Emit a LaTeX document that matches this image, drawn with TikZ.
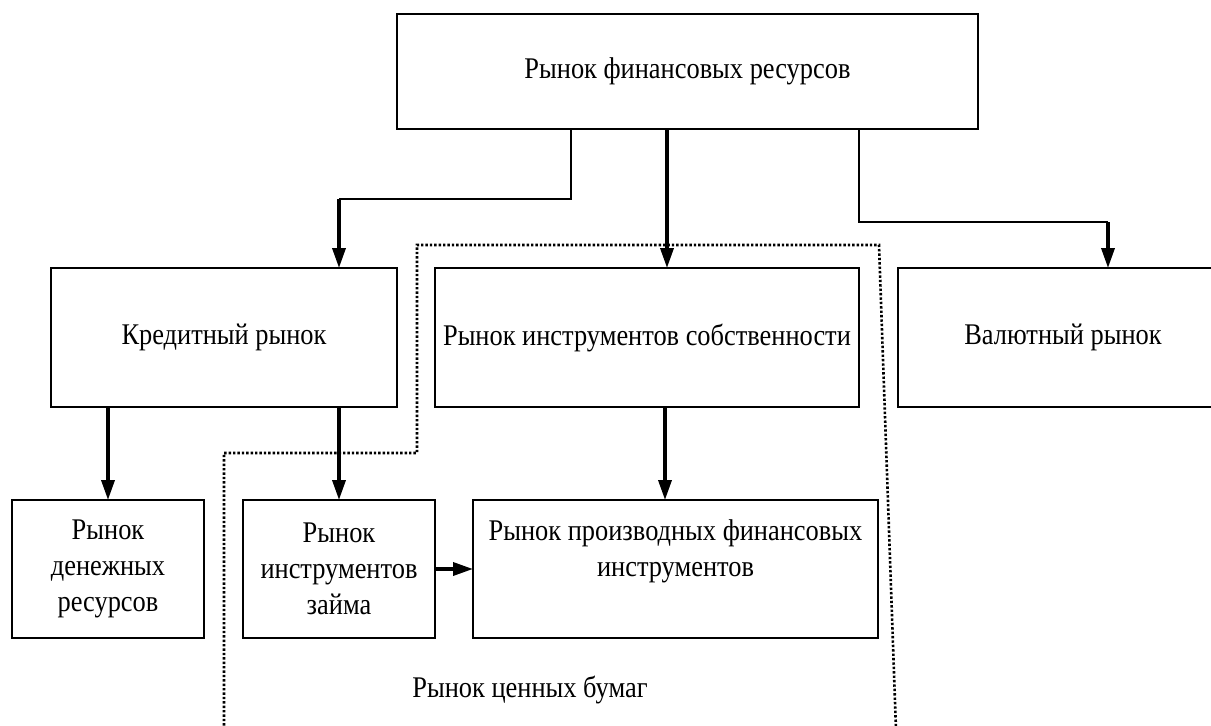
\documentclass[tikz,border=0pt]{standalone}
\usepackage{fontspec}
\setmainfont[FakeStretch=0.88]{Liberation Serif}
\usetikzlibrary{arrows.meta}
\begin{document}
\begin{tikzpicture}[x=1pt,y=-1pt,
  box/.style={draw, line width=2pt, rectangle, inner sep=0pt, outer sep=0pt, align=center, font=\fontsize{30}{36}\selectfont},
  thinline/.style={line width=2pt},
  arr/.style={line width=3.5pt, -{Triangle[length=20pt,width=13pt]}},
  dotline/.style={line width=2.6pt, dash pattern=on 2.4pt off 2pt},
  lbl/.style={font=\fontsize{30}{36}\selectfont, inner sep=0pt}]
\useasboundingbox (0,0) rectangle (1211,726);
\clip (0,0) rectangle (1211,726);

\node[box, minimum width=581pt, minimum height=115pt] (top) at (687.5,71.5) {Рынок финансовых ресурсов};
\node[box, minimum width=346pt, minimum height=139pt] (kred) at (224,337.5) {Кредитный рынок};
\node[box, minimum width=424pt, minimum height=139pt] (sobst) at (647,337.5) {Рынок инструментов собственности};
\node[box, minimum width=330pt, minimum height=139pt] (val) at (1063,337.5) {Валютный рынок};
\node[box, minimum width=192pt, minimum height=138pt] (den) at (108,569) {Рынок\\денежных\\ресурсов};
\node[box, minimum width=192pt, minimum height=138pt] (zaim) at (339,569) {Рынок\\инструментов\\займа};
\node[box, minimum width=405pt, minimum height=138pt] (deriv) at (675.5,569) {Рынок производных финансовых\\инструментов\\[6pt]~};
\node[lbl] (cb) at (530,690) {Рынок ценных бумаг};

% connectors from top box
\coordinate (lk) at (571,199);
\coordinate (lk2) at (339,199);
\draw[thinline] (top.south -| lk) -- (lk) -- (lk2);
\draw[arr] (lk2) -- (kred.north -| lk2);
\coordinate (cs) at (667,200);
\draw[arr] (top.south -| cs) -- (sobst.north -| cs);
\coordinate (rv) at (859,222);
\coordinate (rv2) at (1108,222);
\draw[thinline] (top.south -| rv) -- (rv) -- (rv2);
\draw[arr] (rv2) -- (val.north -| rv2);

% lower connectors
\coordinate (xd) at (108,450);
\coordinate (xz) at (339,450);
\coordinate (xs) at (665,450);
\draw[arr] (kred.south -| xd) -- (den.north -| xd);
\draw[arr] (kred.south -| xz) -- (zaim.north -| xz);
\draw[arr] (sobst.south -| xs) -- (deriv.north -| xs);
\draw[arr] (zaim.east) -- (deriv.west);

% dotted border of securities market
\coordinate (d1) at (224,730);
\coordinate (d2) at (224,453);
\coordinate (d3) at (417,453);
\coordinate (d4) at (417,245);
\coordinate (d5) at (879,245);
\coordinate (d6) at (896,730);
\draw[dotline] (d1) -- (d2) -- (d3) -- (d4) -- (d5) -- (d6);
\end{tikzpicture}
\end{document}
